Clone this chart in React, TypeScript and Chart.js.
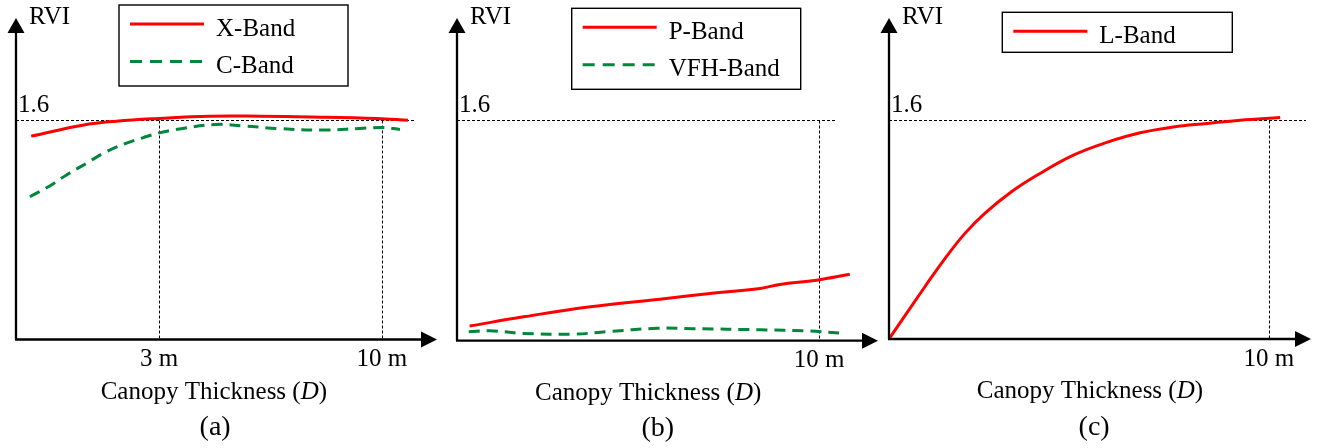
import React, { useEffect, useRef } from "react";
import { Chart, registerables } from "chart.js";

Chart.register(...registerables);

const FONT = '"Liberation Serif", "Times New Roman", serif';
const RED = "#ff0000";
const GREEN = "#00873c";

// x positions are schematic units along the axis (0 = origin, 100 = arrow tip)
// Panel (a)
const xBandPos = [3.6, 15.8, 23.8, 34.0, 46.0, 58.0, 70.0, 85.7, 93.1];
const xBandRvi = [1.48, 1.56, 1.589, 1.609, 1.625, 1.625, 1.62, 1.609, 1.596];
const cBandPos = [3.3, 7.9, 11.9, 16.6, 21.4, 26.1, 30.1, 34.0, 39.6, 47.5, 53.9, 61.9, 72.9, 81.7, 87.2, 91.2];
const cBandRvi = [1.039, 1.116, 1.196, 1.28, 1.366, 1.427, 1.468, 1.504, 1.536, 1.565, 1.555, 1.536, 1.524, 1.536, 1.543, 1.529];
const aTickPos = [34.0, 86.9];
const aTickLabels = ["3 m", "10 m"];

// Panel (b)
const pBandPos = [3.0, 15.8, 31.7, 48.2, 60.1, 72.0, 76.7, 85.4, 93.3];
const pBandRvi = [0.106, 0.173, 0.246, 0.301, 0.342, 0.379, 0.408, 0.439, 0.482];
const vfhBandPos = [2.8, 7.8, 15.8, 27.7, 35.6, 47.5, 56.1, 72.0, 83.8, 91.7];
const vfhBandRvi = [0.065, 0.072, 0.053, 0.048, 0.065, 0.09, 0.087, 0.079, 0.07, 0.053];
const bTickPos = [86.0];
const bTickLabels = ["10 m"];

// Panel (c)
const lBandPos = [0, 8.5, 13.3, 18.0, 22.7, 29.1, 35.8, 43.7, 51.6, 59.5, 67.4, 75.3, 83.2, 92.7];
const lBandRvi = [0, 0.381, 0.588, 0.77, 0.916, 1.075, 1.207, 1.34, 1.433, 1.503, 1.546, 1.571, 1.595, 1.615];
const cTickPos = [90.0];
const cTickLabels = ["10 m"];

const REF_RVI = 1.6;
const REF_LABEL = "1.6";
const Y_LABEL = "RVI";
const X_TITLE = ["Canopy Thickness (", "D", ")"];

const toPoints = (xs: number[], ys: number[]) => xs.map((x, i) => ({ x, y: ys[i] }));

const schematicPlugin = {
  id: "schematic",
  beforeDatasetsDraw(chart: any, _args: any, opts: any) {
    const { ctx, chartArea } = chart;
    const xs = chart.scales.x;
    const ys = chart.scales.y;
    const yRef = Math.round(ys.getPixelForValue(opts.refValue)) + 0.5;
    const yBase = ys.getPixelForValue(0);
    ctx.save();
    ctx.strokeStyle = "#000";
    ctx.lineWidth = 1;
    ctx.setLineDash([3, 2]);
    ctx.beginPath();
    ctx.moveTo(chartArea.left, yRef);
    ctx.lineTo(xs.getPixelForValue(opts.refEnd), yRef);
    for (const t of opts.ticks) {
      const px = Math.round(xs.getPixelForValue(t)) + 0.5;
      ctx.moveTo(px, yRef);
      ctx.lineTo(px, yBase);
    }
    ctx.stroke();
    ctx.restore();
  },
  afterDatasetsDraw(chart: any, _args: any, opts: any) {
    const { ctx, chartArea } = chart;
    const xs = chart.scales.x;
    const ys = chart.scales.y;
    const x0 = chartArea.left;
    const y0 = ys.getPixelForValue(0);
    const top = chartArea.top;
    const right = chartArea.right;
    ctx.save();
    // axes
    ctx.strokeStyle = "#000";
    ctx.fillStyle = "#000";
    ctx.lineWidth = 2.3;
    ctx.setLineDash([]);
    ctx.beginPath();
    ctx.moveTo(x0, y0);
    ctx.lineTo(x0, top + 12);
    ctx.moveTo(x0 - 1, y0);
    ctx.lineTo(right - 12, y0);
    ctx.stroke();
    // arrowheads
    ctx.beginPath();
    ctx.moveTo(x0, top);
    ctx.lineTo(x0 - 8.5, top + 15);
    ctx.lineTo(x0 + 8.5, top + 15);
    ctx.closePath();
    ctx.fill();
    ctx.beginPath();
    ctx.moveTo(right, y0);
    ctx.lineTo(right - 16, y0 - 8);
    ctx.lineTo(right - 16, y0 + 8);
    ctx.closePath();
    ctx.fill();

    // texts
    ctx.font = `25px ${FONT}`;
    ctx.textBaseline = "alphabetic";
    ctx.textAlign = "left";
    ctx.fillText(Y_LABEL, x0 + 13, top + 5.5);
    const yRef = ys.getPixelForValue(opts.refValue);
    ctx.fillText(REF_LABEL, x0 + 2, yRef - 8);
    ctx.textAlign = "center";
    opts.ticks.forEach((t: number, i: number) => {
      ctx.fillText(opts.tickLabels[i], xs.getPixelForValue(t), y0 + 26.5);
    });
    // axis title with italic D
    const segs = X_TITLE.map((s, i) => ({ s, font: i === 1 ? `italic 25px ${FONT}` : `25px ${FONT}` }));
    let total = 0;
    segs.forEach((g) => {
      ctx.font = g.font;
      total += ctx.measureText(g.s).width;
    });
    let cx = xs.getPixelForValue(opts.titlePos) - total / 2;
    ctx.textAlign = "left";
    segs.forEach((g) => {
      ctx.font = g.font;
      ctx.fillText(g.s, cx, y0 + 59);
      cx += ctx.measureText(g.s).width;
    });
    ctx.font = `28px ${FONT}`;
    ctx.textAlign = "center";
    ctx.fillText(opts.panel, xs.getPixelForValue(opts.panelPos), y0 + 95.5);

    // legend box
    const lg = opts.legend;
    const dsets = chart.data.datasets;
    ctx.lineWidth = 1.4;
    ctx.strokeStyle = "#000";
    ctx.strokeRect(lg.x, lg.y, lg.w, lg.h);
    ctx.font = `25px ${FONT}`;
    ctx.textAlign = "left";
    dsets.forEach((d: any, i: number) => {
      const ly = lg.y + 19 + i * 37.5;
      ctx.save();
      ctx.strokeStyle = d.borderColor;
      ctx.lineWidth = d.borderWidth;
      ctx.setLineDash(d.borderDash ? [12, 8] : []);
      ctx.beginPath();
      ctx.moveTo(lg.x + 11, ly);
      ctx.lineTo(lg.x + 85, ly);
      ctx.stroke();
      ctx.restore();
      ctx.fillStyle = "#000";
      ctx.fillText(d.label, lg.x + 97, ly + 11.5);
    });
    ctx.restore();
  },
};

function makeDataset(label: string, xs: number[], ys: number[], color: string, dashed: boolean) {
  return {
    label,
    data: toPoints(xs, ys),
    borderColor: color,
    backgroundColor: color,
    borderWidth: 3,
    borderDash: dashed ? [11, 7] : undefined,
    pointRadius: 0,
    fill: false,
    tension: 0.4,
  };
}

function makeConfig(datasets: any[], padding: any, pluginOpts: any) {
  return {
    type: "line",
    data: { datasets },
    options: {
      animation: false,
      responsive: false,
      devicePixelRatio: 1,
      layout: { padding },
      scales: {
        x: { type: "linear", min: 0, max: 100, display: false },
        y: { type: "linear", min: 0, max: 2.34, display: false },
      },
      plugins: {
        legend: { display: false },
        tooltip: { enabled: false },
        schematic: pluginOpts,
      },
    },
    plugins: [schematicPlugin],
  };
}

function Panel({ left, width, config }: { left: number; width: number; config: any }) {
  const ref = useRef<HTMLCanvasElement>(null);
  useEffect(() => {
    const chart = new Chart(ref.current as HTMLCanvasElement, config as any);
    return () => chart.destroy();
  }, []);
  return (
    <canvas
      ref={ref}
      width={width}
      height={448}
      style={{ position: "absolute", left, top: 0, width, height: 448 }}
    />
  );
}

export default function App() {
  const cfgA = makeConfig(
    [
      makeDataset("X-Band", xBandPos, xBandRvi, RED, false),
      makeDataset("C-Band", cBandPos, cBandRvi, GREEN, true),
    ],
    { left: 16, right: 3, top: 18, bottom: 108.5 },
    {
      refValue: REF_RVI,
      refEnd: 94.8,
      ticks: aTickPos,
      tickLabels: aTickLabels,
      titlePos: 47,
      panel: "(a)",
      panelPos: 47.3,
      legend: { x: 119, y: 5, w: 229, h: 81 },
    }
  );
  const cfgB = makeConfig(
    [
      makeDataset("P-Band", pBandPos, pBandRvi, RED, false),
      makeDataset("VFH-Band", vfhBandPos, vfhBandRvi, GREEN, true),
    ],
    { left: 17, right: 2, top: 18, bottom: 107.3 },
    {
      refValue: REF_RVI,
      refEnd: 90.0,
      ticks: bTickPos,
      tickLabels: bTickLabels,
      titlePos: 45.4,
      panel: "(b)",
      panelPos: 47.7,
      legend: { x: 131.7, y: 8.3, w: 229, h: 81 },
    }
  );
  const cfgC = makeConfig(
    [makeDataset("L-Band", lBandPos, lBandRvi, RED, false)],
    { left: 9, right: 13, top: 18, bottom: 109 },
    {
      refValue: REF_RVI,
      refEnd: 98.8,
      ticks: cTickPos,
      tickLabels: cTickLabels,
      titlePos: 47.6,
      panel: "(c)",
      panelPos: 48.6,
      legend: { x: 122.3, y: 12.3, w: 230, h: 40 },
    }
  );
  return (
    <div style={{ position: "absolute", left: 0, top: 0, width: 1324, height: 448, background: "#fff" }}>
      <Panel left={0} width={440} config={cfgA} />
      <Panel left={440} width={440} config={cfgB} />
      <Panel left={880} width={444} config={cfgC} />
    </div>
  );
}
